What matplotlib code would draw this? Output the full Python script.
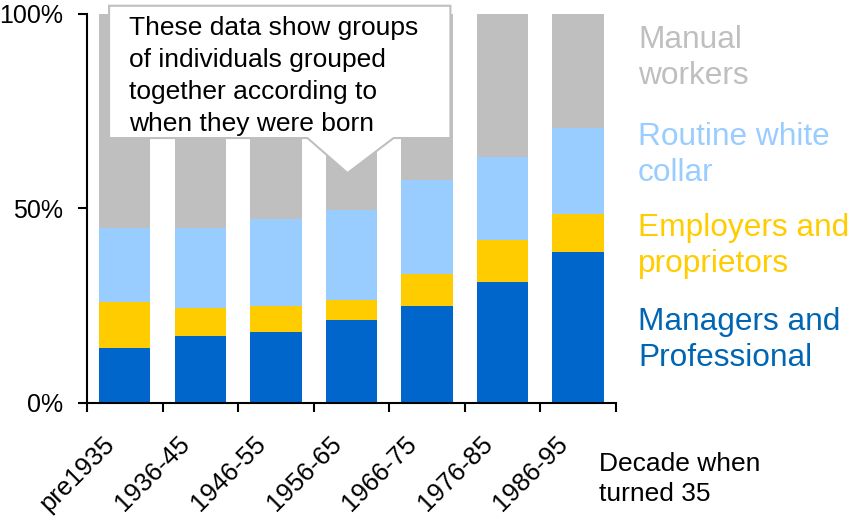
import numpy as np
import matplotlib
matplotlib.use("Agg")
import matplotlib.pyplot as plt
import matplotlib.transforms as mtransforms
from matplotlib.patches import Polygon

plt.rcParams['font.family'] = ['Liberation Sans', 'DejaVu Sans']

# Data (% of each cohort)
decades = ["pre1935", "1936-45", "1946-55", "1956-65", "1966-75", "1976-85", "1986-95"]
managers = [14.2, 17.3, 18.3, 21.3, 25.0, 31.2, 38.9]
employers = [11.8, 7.2, 6.7, 5.3, 8.2, 10.8, 9.8]
routine = [19.0, 20.5, 22.3, 23.1, 24.2, 21.2, 22.1]
manual = [55.0, 55.0, 52.7, 50.3, 42.6, 36.8, 29.2]

series = [
    ("Managers and\nProfessional", managers, "#0066CC", "#0066B3"),
    ("Employers and\nproprietors", employers, "#FFCC00", "#FFCC00"),
    ("Routine white\ncollar", routine, "#99CCFF", "#99CCFF"),
    ("Manual\nworkers", manual, "#BFBFBF", "#BFBFBF"),
]

fig = plt.figure(figsize=(8.53, 5.16), dpi=100)
ax = fig.add_axes([0.102, 0.219, 0.620, 0.754])

x = np.arange(len(decades))
bottom = np.zeros(len(decades))
for name, vals, col, tcol in series:
    ax.bar(x, vals, bottom=bottom, width=0.68, color=col, edgecolor='none', zorder=2)
    bottom += np.array(vals)

ax.set_xlim(-0.5, len(decades) - 0.5)
ax.set_ylim(0, 100)
ax.set_yticks([0, 50, 100])
ax.set_yticklabels(["0%", "50%", "100%"], fontsize=18)
ax.tick_params(axis='y', direction='out', length=6.5, width=1.5, pad=11)

# category boundaries get the tick marks, labels sit at centres
ax.set_xticks(np.arange(-0.5, len(decades)), minor=False)
ax.set_xticklabels([])
ax.tick_params(axis='x', which='major', direction='out', length=6.5, width=1.5)
ax.set_xticks(x, minor=True)
ax.set_xticklabels(decades, minor=True, rotation=45, ha='right', va='center',
                   rotation_mode='anchor', fontsize=18.5)
ax.tick_params(axis='x', which='minor', length=0, pad=22)
shift = mtransforms.ScaledTranslation(-0.14, -0.07, fig.dpi_scale_trans)
for lab in ax.get_xticklabels(minor=True):
    lab.set_transform(lab.get_transform() + shift)

for s in ['top', 'right']:
    ax.spines[s].set_visible(False)
for s in ['left', 'bottom']:
    ax.spines[s].set_linewidth(1.5)

fig.text(0.702, 0.124, "Decade when\nturned 35", fontsize=19, va='top', ha='left', linespacing=1.33)

# legend as coloured text on the right
leg_y = [0.952, 0.764, 0.588, 0.406]
for (name, vals, col, tcol), yy in zip(series[::-1], leg_y):
    fig.text(0.748, yy, name, color=tcol, fontsize=22.8, va='top', ha='left', linespacing=1.27)

# callout box
call = Polygon([(-0.208, 102.1), (4.31, 102.1), (4.31, 68.1), (3.558, 68.1),
                (2.948, 59.1), (2.418, 68.1), (-0.208, 68.1)],
               closed=True, facecolor='white', edgecolor='#BFBFBF', lw=1.5,
               clip_on=False, zorder=5)
ax.add_patch(call)
ax.text(0.053, 99.4, "These data show groups\nof individuals grouped\ntogether according to\nwhen they were born",
        fontsize=19, va='top', ha='left', linespacing=1.41, zorder=6, clip_on=False)

fig.savefig("out.png", dpi=100)
